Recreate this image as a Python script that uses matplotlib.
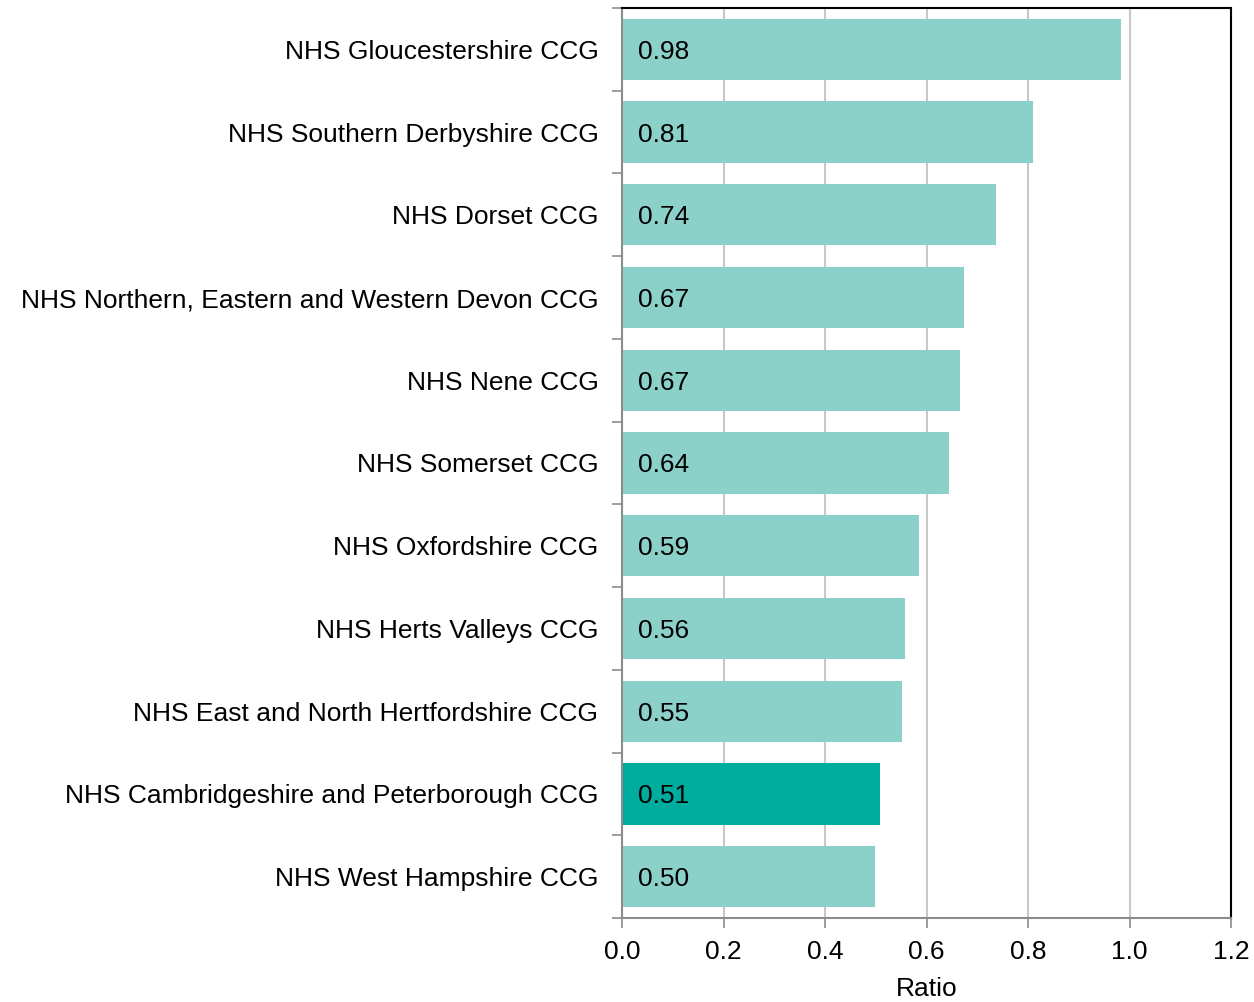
import matplotlib.pyplot as plt
import numpy as np

plt.rcParams["font.family"] = ["Liberation Sans", "DejaVu Sans"]

ccgs = [
    "NHS Gloucestershire CCG",
    "NHS Southern Derbyshire CCG",
    "NHS Dorset CCG",
    "NHS Northern, Eastern and Western Devon CCG",
    "NHS Nene CCG",
    "NHS Somerset CCG",
    "NHS Oxfordshire CCG",
    "NHS Herts Valleys CCG",
    "NHS East and North Hertfordshire CCG",
    "NHS Cambridgeshire and Peterborough CCG",
    "NHS West Hampshire CCG",
]
ratios = [0.983, 0.81, 0.737, 0.674, 0.666, 0.644, 0.586, 0.558, 0.551, 0.508, 0.498]
highlight = "NHS Cambridgeshire and Peterborough CCG"

light = "#8bd1c9"
dark = "#00ac9e"
grey = "#8c8c8c"
fs = 19

fig = plt.figure(figsize=(12.54, 10.02), dpi=100)
ax = fig.add_axes([622 / 1254, 1 - 918 / 1002, 609 / 1254, 910 / 1002])

y = np.arange(len(ccgs))
colors = [dark if c == highlight else light for c in ccgs]
ax.barh(y, ratios, height=0.74, color=colors, zorder=2)
for yi, v in zip(y, ratios):
    ax.text(0.032, yi, f"{v:.2f}", va="center_baseline", ha="left", fontsize=fs, color="black", zorder=3)

ax.set_xlim(0, 1.2)
ax.set_ylim(len(ccgs) - 0.5, -0.5)
ax.set_xticks(np.arange(0, 1.21, 0.2))
ax.set_xticklabels([f"{t:.1f}" for t in np.arange(0, 1.21, 0.2)])
ax.set_yticks(y)
ax.set_yticklabels(ccgs)
ax.set_yticks(np.arange(-0.5, len(ccgs), 1), minor=True)
ax.tick_params(axis="y", which="major", length=0, pad=17, labelsize=fs)
ax.tick_params(axis="y", which="minor", length=7, width=1.2, color=grey, direction="out")
ax.tick_params(axis="x", length=7, width=1.2, color=grey, pad=9, labelsize=fs)

ax.grid(axis="x", color="#c8c8c8", linewidth=1.5, zorder=0)
ax.set_axisbelow(True)

for side in ["left", "bottom"]:
    ax.spines[side].set_color(grey)
    ax.spines[side].set_linewidth(1.5)
for side in ["top", "right"]:
    ax.spines[side].set_color("black")
    ax.spines[side].set_linewidth(1.5)

ax.set_xlabel("Ratio", fontsize=fs, labelpad=9)

fig.savefig("out.png", dpi=100)
